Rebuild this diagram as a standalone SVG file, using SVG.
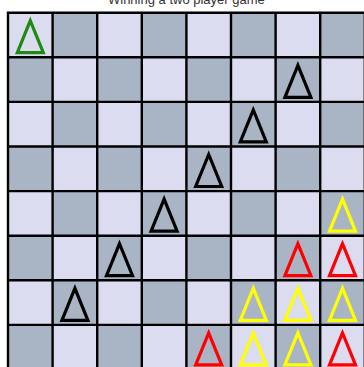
<svg xmlns="http://www.w3.org/2000/svg" xmlns:xlink="http://www.w3.org/1999/xlink" width="364" height="367" viewBox="0 0 364 367">
  <style>
    .title { font-family: "Liberation Sans", Arial, sans-serif; font-size: 13px; fill: #333333; text-anchor: middle; }
    .grid { stroke: #000000; stroke-width: 2.4; fill: none; }
    .piece { fill: none; stroke-width: 3.2; stroke-linejoin: miter; }
    .green { stroke: #1f8a12; }
    .black { stroke: #000000; }
    .red { stroke: #ff0000; }
    .yellow { stroke: #ffff00; }
  </style>
  <defs>
    <pattern id="board" patternUnits="userSpaceOnUse" x="8" y="12.7" width="89.2" height="89.2">
      <rect x="0" y="0" width="89.2" height="89.2" fill="#dcdcf0"/>
      <rect x="44.6" y="0" width="44.6" height="44.6" fill="#a9b5c5"/>
      <rect x="0" y="44.6" width="44.6" height="44.6" fill="#a9b5c5"/>
    </pattern>
    <polygon id="tri" points="0,8 -13,40 13,40"/>
  </defs>
  <rect width="364" height="367" fill="#ffffff"/>
  <text class="title" x="186.4" y="4">Winning a two player game</text>
  <rect x="8" y="12.7" width="356.8" height="356.8" fill="url(#board)"/>
  <path class="grid" d="M8,12.7V370 M52.6,12.7V370 M97.2,12.7V370 M141.8,12.7V370 M186.4,12.7V370 M231,12.7V370 M275.6,12.7V370 M320.2,12.7V370 M364.8,12.7V370 M6.8,12.7H366 M6.8,57.3H366 M6.8,101.9H366 M6.8,146.5H366 M6.8,191.1H366 M6.8,235.7H366 M6.8,280.3H366 M6.8,324.9H366"/>
  <g id="connectors"></g>
  <g id="piece-r0c0" class="piece green"><use xlink:href="#tri" x="30.3" y="12.7"/></g>
  <g id="piece-r1c6" class="piece black"><use xlink:href="#tri" x="297.9" y="57.3"/></g>
  <g id="piece-r2c5" class="piece black"><use xlink:href="#tri" x="253.3" y="101.9"/></g>
  <g id="piece-r3c4" class="piece black"><use xlink:href="#tri" x="208.7" y="146.5"/></g>
  <g id="piece-r4c3" class="piece black"><use xlink:href="#tri" x="164.1" y="191.1"/></g>
  <g id="piece-r5c2" class="piece black"><use xlink:href="#tri" x="119.5" y="235.7"/></g>
  <g id="piece-r6c1" class="piece black"><use xlink:href="#tri" x="74.9" y="280.3"/></g>
  <g id="piece-r4c7" class="piece yellow"><use xlink:href="#tri" x="342.5" y="191.1"/></g>
  <g id="piece-r5c6" class="piece red"><use xlink:href="#tri" x="297.9" y="235.7"/></g>
  <g id="piece-r5c7" class="piece red"><use xlink:href="#tri" x="342.5" y="235.7"/></g>
  <g id="piece-r6c5" class="piece yellow"><use xlink:href="#tri" x="253.3" y="280.3"/></g>
  <g id="piece-r6c6" class="piece yellow"><use xlink:href="#tri" x="297.9" y="280.3"/></g>
  <g id="piece-r6c7" class="piece yellow"><use xlink:href="#tri" x="342.5" y="280.3"/></g>
  <g id="piece-r7c4" class="piece red"><use xlink:href="#tri" x="208.7" y="324.9"/></g>
  <g id="piece-r7c5" class="piece yellow"><use xlink:href="#tri" x="253.3" y="324.9"/></g>
  <g id="piece-r7c6" class="piece yellow"><use xlink:href="#tri" x="297.9" y="324.9"/></g>
  <g id="piece-r7c7" class="piece red"><use xlink:href="#tri" x="342.5" y="324.9"/></g>
</svg>
